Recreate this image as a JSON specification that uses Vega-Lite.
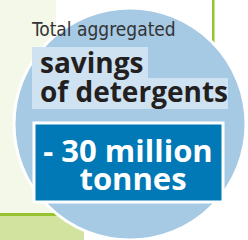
{
  "$schema": "https://vega.github.io/schema/vega-lite/v6.json",
  "width": 248,
  "height": 240,
  "autosize": {"type": "none"},
  "padding": 0,
  "background": "#ffffff",
  "config": {"view": {"stroke": null}},
  "datasets": {
    "bg": [
      {"kind": "panel", "x0": 0, "x1": 56, "y0": 0, "y1": 213},
      {"kind": "lower", "x0": 0, "x1": 84, "y0": 216, "y1": 240},
      {"kind": "line", "x0": 0, "x1": 84, "y0": 213, "y1": 216},
      {"kind": "line", "x0": 212, "x1": 214.5, "y0": 0, "y1": 46}
    ],
    "circle": [{"kind": "circle", "x": 130, "y": 124}],
    "tint": [
      {"kind": "tint", "x0": 32, "x1": 148, "y0": 47, "y1": 79},
      {"kind": "tint", "x0": 32, "x1": 228, "y0": 78, "y1": 109}
    ],
    "dark": [{"kind": "dark", "x0": 34, "x1": 223, "y0": 123, "y1": 202}],
    "labels": [
      {"role": "intro", "text": "Total aggregated", "x": 32, "y": 35.5},
      {"role": "head", "text": "savings", "x": 40, "y": 72.5},
      {"role": "head", "text": "of detergents", "x": 40, "y": 101.5},
      {"role": "value", "text": "- 30 million", "x": 128, "y": 162},
      {"role": "value", "text": "tonnes", "x": 133, "y": 190}
    ]
  },
  "layer": [
    {
      "data": {"name": "bg"},
      "mark": {"type": "rect"},
      "encoding": {
        "x": {"field": "x0", "type": "quantitative", "scale": {"domain": [0, 248], "nice": false, "zero": false}, "axis": null},
        "x2": {"field": "x1"},
        "y": {"field": "y0", "type": "quantitative", "scale": {"domain": [0, 240], "nice": false, "zero": false, "reverse": true}, "axis": null},
        "y2": {"field": "y1"},
        "color": {"field": "kind", "type": "nominal", "legend": null,
          "scale": {"domain": ["panel", "lower", "line", "circle", "tint", "dark"], "range": ["#f4f8e9", "#d1e39f", "#98c330", "#a6c9e4", "#cfe2f2", "#0079b6"]}}
      }
    },
    {
      "data": {"name": "circle"},
      "mark": {"type": "point", "shape": "circle", "filled": true, "size": 53824, "opacity": 1, "stroke": "#ffffff", "strokeWidth": 3},
      "encoding": {
        "x": {"field": "x", "type": "quantitative"},
        "y": {"field": "y", "type": "quantitative"},
        "fill": {"field": "kind", "type": "nominal", "legend": null,
          "scale": {"domain": ["panel", "lower", "line", "circle", "tint", "dark"], "range": ["#f4f8e9", "#d1e39f", "#98c330", "#a6c9e4", "#cfe2f2", "#0079b6"]}}
      }
    },
    {
      "data": {"name": "tint"},
      "mark": {"type": "rect"},
      "encoding": {
        "x": {"field": "x0", "type": "quantitative"},
        "x2": {"field": "x1"},
        "y": {"field": "y0", "type": "quantitative"},
        "y2": {"field": "y1"},
        "color": {"field": "kind", "type": "nominal", "legend": null}
      }
    },
    {
      "data": {"name": "dark"},
      "mark": {"type": "rect", "stroke": "#ffffff", "strokeWidth": 3},
      "encoding": {
        "x": {"field": "x0", "type": "quantitative"},
        "x2": {"field": "x1"},
        "y": {"field": "y0", "type": "quantitative"},
        "y2": {"field": "y1"},
        "color": {"field": "kind", "type": "nominal", "legend": null}
      }
    },
    {
      "data": {"name": "labels"},
      "transform": [{"filter": "datum.role === 'intro'"}],
      "mark": {"type": "text", "align": "left", "baseline": "alphabetic", "font": "'DejaVu Sans Condensed', 'Liberation Sans', sans-serif", "fontSize": 19, "color": "#333333"},
      "encoding": {
        "x": {"field": "x", "type": "quantitative"},
        "y": {"field": "y", "type": "quantitative"},
        "text": {"field": "text"}
      }
    },
    {
      "data": {"name": "labels"},
      "transform": [{"filter": "datum.role === 'head'"}],
      "mark": {"type": "text", "align": "left", "baseline": "alphabetic", "font": "Open Sans", "fontWeight": "bold", "fontSize": 28, "color": "#231f20"},
      "encoding": {
        "x": {"field": "x", "type": "quantitative"},
        "y": {"field": "y", "type": "quantitative"},
        "text": {"field": "text"}
      }
    },
    {
      "data": {"name": "labels"},
      "transform": [{"filter": "datum.role === 'value'"}],
      "mark": {"type": "text", "align": "center", "baseline": "alphabetic", "font": "Open Sans", "fontWeight": "bold", "fontSize": 31, "color": "#ffffff"},
      "encoding": {
        "x": {"field": "x", "type": "quantitative"},
        "y": {"field": "y", "type": "quantitative"},
        "text": {"field": "text"}
      }
    }
  ]
}
